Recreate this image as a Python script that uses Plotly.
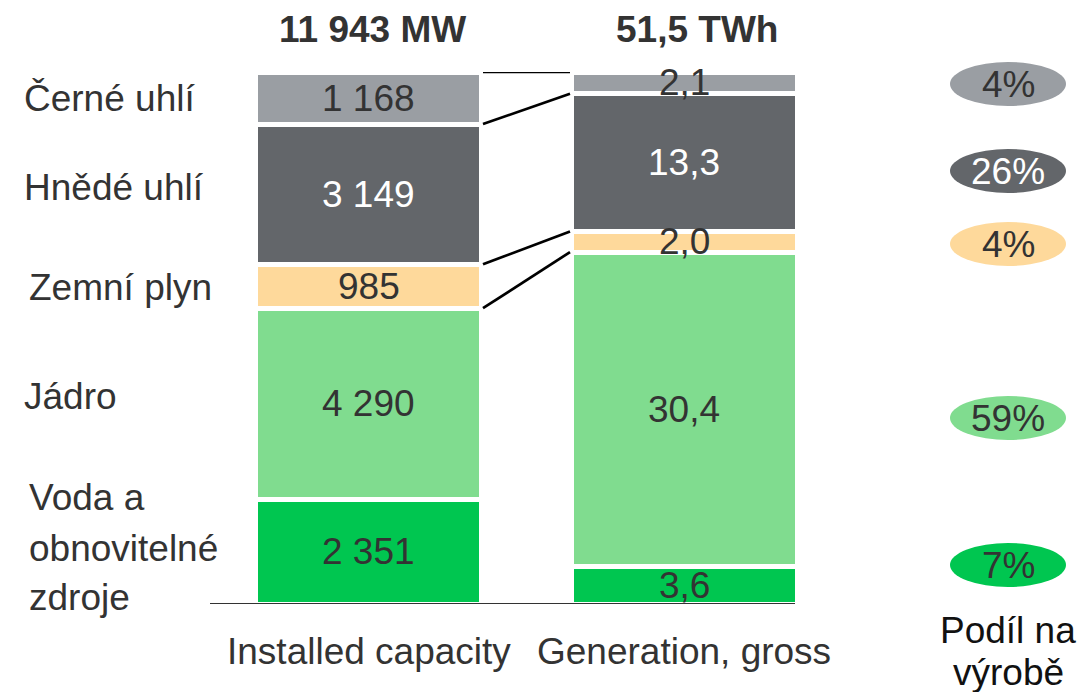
import plotly.graph_objects as go

# ---- data (bottom to top) ----
sources = ["Voda a obnovitelné zdroje", "Jádro", "Zemní plyn", "Hnědé uhlí", "Černé uhlí"]
capacity_mw = [2351, 4290, 985, 3149, 1168]
generation_twh = [3.6, 30.4, 2.0, 13.3, 2.1]
share_pct = [7, 59, 4, 26, 4]
colors = ["#00c650", "#80dc8f", "#fed99b", "#63666a", "#9a9ea3"]
text_colors = ["#333333", "#333333", "#333333", "#ffffff", "#333333"]
bar_names = ["Installed capacity", "Generation, gross"]
headers = ["11 943 MW", "51,5 TWh"]
left_labels = [["Voda a", "obnovitelné", "zdroje"], ["Jádro"], ["Zemní plyn"], ["Hnědé uhlí"], ["Černé uhlí"]]

FONT = "Liberation Sans, Arial, sans-serif"
FS = 37
W, H = 1079, 692
T, B = 72, 88
PH = H - T - B
X0PX, UNIT = 368.5, 315.5  # pixel of x=0, pixels per x unit


def px_x(px):
    return (px - X0PX) / UNIT


def py_paper(py):
    return (H - B - py) / PH


def pct(vals):
    s = sum(vals)
    return [v / s * 100 for v in vals]


def cum(vals):
    out, c = [], 0
    for v in vals:
        c += v
        out.append(c)
    return out


cap_p = pct(capacity_mw)
gen_p = pct(generation_twh)
cap_c = cum(cap_p)
gen_c = cum(gen_p)

fig = go.Figure()
bw = 226 / UNIT
for i in range(len(sources)):
    fig.add_trace(go.Bar(
        x=[0, 1], y=[cap_p[i], gen_p[i]], width=[bw, bw],
        marker=dict(color=colors[i], line=dict(color="white", width=5)),
        hoverinfo="skip", showlegend=False,
    ))


def fmt_cap(v):
    return f"{v:,}".replace(",", " ")


def fmt_gen(v):
    return f"{v:.1f}".replace(".", ",")


# connecting lines at segment boundaries
lx, ly = [], []
for i in range(1, len(sources)):
    lx += [px_x(483), px_x(570), None]
    ly += [cap_c[i], gen_c[i], None]
fig.add_trace(go.Scatter(x=lx, y=ly, mode="lines", line=dict(color="black", width=2.7),
                         hoverinfo="skip", showlegend=False, cliponaxis=False))

# baseline
fig.add_shape(type="line", xref="x", yref="y", x0=px_x(210), x1=px_x(795), y0=0, y1=0,
              line=dict(color="#333333", width=2))


def ann(x, y, text, xref="x", yref="paper", xanchor="center", color="#333333", size=FS):
    fig.add_annotation(x=x, y=y, xref=xref, yref=yref, text=text, showarrow=False,
                       xanchor=xanchor, yanchor="middle",
                       font=dict(family=FONT, size=size, color=color))


# value labels at segment centres
for i in range(len(sources)):
    ann(0, cap_c[i] - cap_p[i] / 2, fmt_cap(capacity_mw[i]), yref="y", color=text_colors[i])
    ann(1, gen_c[i] - gen_p[i] / 2, fmt_gen(generation_twh[i]), yref="y", color=text_colors[i])

# headers
for hx, htxt in zip([372, 697], headers):
    ann(px_x(hx), py_paper(30), f"<b>{htxt}</b>")

# bar names
for j, name in enumerate(bar_names):
    ann(j, py_paper(651), name)

# left category labels
left_pos = [[(27, 497), (27, 548), (27, 597)], [(22, 396)], [(27, 287)], [(22, 187)], [(22, 98)]]
for lines, pos in zip(left_labels, left_pos):
    for t, (lxp, lyp) in zip(lines, pos):
        ann(lxp / W, py_paper(lyp), t, xref="paper", xanchor="left")

# share pills
pill_y = [565, 418, 244, 171, 84]
pill_w, pill_h = 116, 44
for i in range(len(sources)):
    cx, cy = 1008, pill_y[i]
    fig.add_shape(type="circle", xref="x", yref="paper",
                  x0=px_x(cx - pill_w / 2), x1=px_x(cx + pill_w / 2),
                  y0=py_paper(cy + pill_h / 2), y1=py_paper(cy - pill_h / 2),
                  fillcolor=colors[i], line=dict(width=0))
    ann(px_x(cx), py_paper(cy), f"{share_pct[i]}%", color=text_colors[i])

ann(px_x(1008), py_paper(630), "Podíl na", color="#111111")
ann(px_x(1008), py_paper(672), "výrobě", color="#111111")

fig.update_layout(
    width=W, height=H, barmode="stack",
    margin=dict(l=0, r=0, t=T, b=B, autoexpand=False),
    plot_bgcolor="white", paper_bgcolor="white",
    xaxis=dict(range=[px_x(0), px_x(W)], visible=False, fixedrange=True),
    yaxis=dict(range=[0, 100], visible=False, fixedrange=True),
    showlegend=False,
)

fig.write_html("out.html", config={"displayModeBar": False},
               post_script="document.body.style.margin='0';document.body.style.overflow='hidden';")
